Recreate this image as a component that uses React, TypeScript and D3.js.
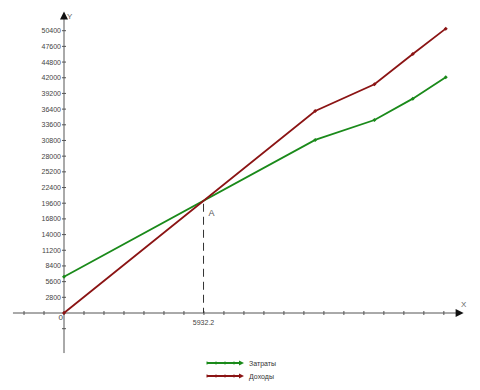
import React from "react";
import * as d3 from "d3";

const xValues = [0, 10680, 13200, 14830, 16230];
const costs = [6480, 30900, 34460, 38270, 42090];
const revenue = [0, 36070, 40840, 46250, 50770];
const seriesNames = ["Затраты", "Доходы"];
const yTickValues = [2800, 5600, 8400, 11200, 14000, 16800, 19600, 22400, 25200, 28000, 30800, 33600, 36400, 39200, 42000, 44800, 47600, 50400];
const breakEvenX = 5932.2;
const breakEvenLabel = "5932.2";
const pointLabel = "A";

const W = 480;
const H = 390;
const GREEN = "#1a8a1a";
const RED = "#8b1414";
const AXIS = "#555";
const FONT = "'Liberation Sans', Arial, sans-serif";

export default function App() {
  const x = d3.scaleLinear().domain([0, 17000]).range([64, 64 + 17000 * 0.02352]);
  const y = d3.scaleLinear().domain([0, 50400]).range([313, 30.7]);

  const costData = xValues.map((v, i) => [v, costs[i]] as [number, number]);
  const revData = xValues.map((v, i) => [v, revenue[i]] as [number, number]);
  const line = d3
    .line<[number, number]>()
    .x((d) => x(d[0]))
    .y((d) => y(d[1]));

  const beY = (breakEvenX / xValues[1]) * revenue[1];

  const xTicks = d3.range(-2, 20).map((k) => k * 850);
  const yTicksAll = [-2800, ...yTickValues];

  const x0 = x(0);
  const y0 = y(0);
  const xAxisStart = x(-2170);
  const xAxisEnd = x(16990);
  const yAxisTop = y(53300);
  const yAxisBottom = y(-7150);

  const marker = (cx: number, cy: number, color: string, key: string) => (
    <path key={key} d={`M${cx - 2},${cy} L${cx},${cy - 2} L${cx + 2},${cy} L${cx},${cy + 2} Z`} fill={color} />
  );

  const legendItems = [
    { name: seriesNames[0], color: GREEN, y: 363 },
    { name: seriesNames[1], color: RED, y: 376 },
  ];

  return (
    <svg width={W} height={H} style={{ position: "absolute", left: 0, top: 0, background: "#fff" }} fontFamily={FONT}>
      <rect x={0} y={0} width={W} height={H} fill="#fff" />
      {/* X axis */}
      <line x1={xAxisStart} y1={y0} x2={xAxisEnd - 4} y2={y0} stroke={AXIS} strokeWidth={1} />
      <path d={`M${xAxisEnd},${y0} L${xAxisEnd - 8},${y0 - 4} L${xAxisEnd - 8},${y0 + 4} Z`} fill="#111" />
      {xTicks.map((t) => (
        <line key={"xt" + t} x1={x(t)} x2={x(t)} y1={y0 - 2} y2={y0 + 2} stroke={AXIS} strokeWidth={1} />
      ))}
      <text x={xAxisEnd} y={y0 - 6} fontSize={8} fill="#666" textAnchor="middle">X</text>
      {/* Y axis */}
      <line x1={x0} y1={yAxisBottom} x2={x0} y2={yAxisTop + 4} stroke={AXIS} strokeWidth={1} />
      <path d={`M${x0},${yAxisTop - 3} L${x0 - 4},${yAxisTop + 5} L${x0 + 4},${yAxisTop + 5} Z`} fill="#111" />
      <text x={x0 + 3} y={yAxisTop + 5} fontSize={8} fill="#666">Y</text>
      {yTicksAll.map((t) => (
        <line key={"yt" + t} x1={x0 - 2} x2={x0 + 2} y1={y(t)} y2={y(t)} stroke={AXIS} strokeWidth={1} />
      ))}
      {yTickValues.map((t) => (
        <text key={"yl" + t} x={x0 - 3} y={y(t) + 2.5} fontSize={7} fill="#444" textAnchor="end">
          {t}
        </text>
      ))}
      <text x={x0 - 1} y={y0 + 7} fontSize={8} fill="#444" textAnchor="end">0</text>
      {/* Break-even */}
      <line x1={x(breakEvenX)} x2={x(breakEvenX)} y1={y(beY) + 3} y2={y0} stroke="#333" strokeWidth={1} strokeDasharray="8,5" />
      <text x={x(breakEvenX)} y={y0 + 12} fontSize={7} fill="#444" textAnchor="middle">{breakEvenLabel}</text>
      <text x={x(breakEvenX) + 5} y={y(beY) + 15} fontSize={9} fill="#555">{pointLabel}</text>
      {/* Lines */}
      <path d={line(costData) || ""} fill="none" stroke={GREEN} strokeWidth={1.8} />
      <path d={line(revData) || ""} fill="none" stroke={RED} strokeWidth={1.8} />
      {costData.map((d, i) => marker(x(d[0]), y(d[1]), GREEN, "cm" + i))}
      {revData.map((d, i) => marker(x(d[0]), y(d[1]), RED, "rm" + i))}
      {/* Legend */}
      {legendItems.map((it) => (
        <g key={it.name}>
          <line x1={207} x2={241} y1={it.y} y2={it.y} stroke={it.color} strokeWidth={2} />
          {[207, 216, 225, 234].map((mx) => (
            <line key={mx} x1={mx} x2={mx} y1={it.y - 1.5} y2={it.y + 1.5} stroke={it.color} strokeWidth={1} />
          ))}
          <path d={`M${244},${it.y} L${239},${it.y - 2.5} L${239},${it.y + 2.5} Z`} fill={it.color} />
          <text x={249} y={it.y + 2.5} fontSize={7} fill="#333">{it.name}</text>
        </g>
      ))}
    </svg>
  );
}
